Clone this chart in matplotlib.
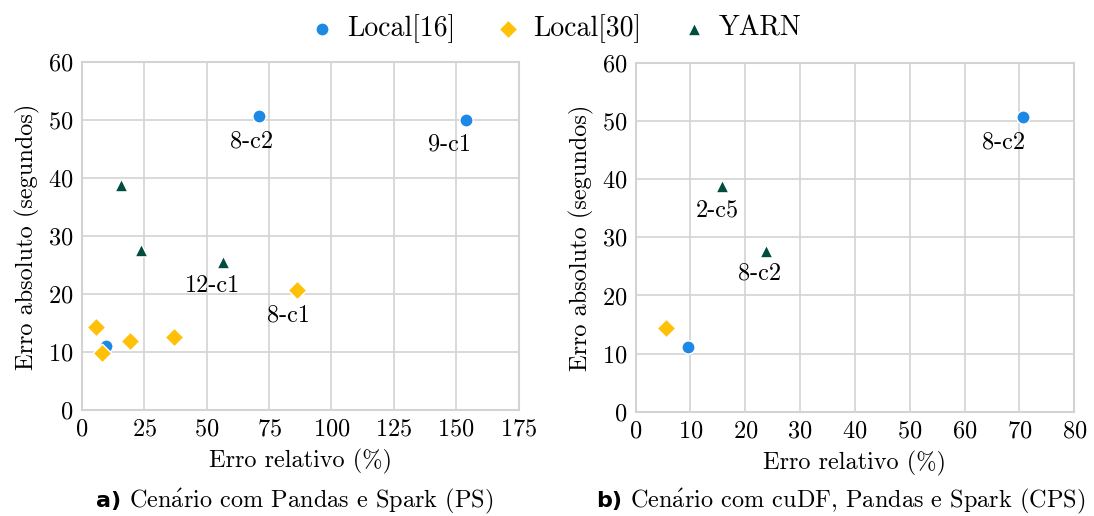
import matplotlib
matplotlib.use("Agg")
import matplotlib.pyplot as plt

plt.rcParams['font.family'] = ['cmr10', 'DejaVu Serif']
plt.rcParams['mathtext.fontset'] = 'cm'
plt.rcParams['axes.formatter.use_mathtext'] = True

series_names = ["Local[16]", "Local[30]", "YARN"]
colors = ["#1E88E5", "#FFC107", "#004D40"]
markers = ["o", "D", "^"]

# Panel a) Pandas e Spark (PS)
ps_local16_x = [70.8, 153.8, 9.5]
ps_local16_y = [50.7, 50.1, 11.1]
ps_local30_x = [5.6, 7.9, 19.1, 36.9, 86.2]
ps_local30_y = [14.4, 9.8, 12.0, 12.7, 20.7]
ps_yarn_x = [15.7, 23.8, 56.6]
ps_yarn_y = [38.9, 27.6, 25.6]
ps_labels = ["8-c2", "9-c1", "12-c1", "8-c1"]

# Panel b) cuDF, Pandas e Spark (CPS)
cps_local16_x = [70.7, 9.5]
cps_local16_y = [50.7, 11.1]
cps_local30_x = [5.6]
cps_local30_y = [14.4]
cps_yarn_x = [15.7, 23.8]
cps_yarn_y = [38.9, 27.6]
cps_labels = ["8-c2", "2-c5", "8-c2"]

ps_xticks = [0, 25, 50, 75, 100, 125, 150, 175]
cps_xticks = [0, 10, 20, 30, 40, 50, 60, 70, 80]
yticks = [0, 10, 20, 30, 40, 50, 60]

captions = [("a)", "Cen$\\mathrm{\\acute{a}}$rio com Pandas e Spark (PS)"),
            ("b)", "Cen$\\mathrm{\\acute{a}}$rio com cuDF, Pandas e Spark (CPS)")]

fig = plt.figure(figsize=(10.94, 5.16), dpi=100)
ax1 = fig.add_axes([0.075, 0.205, 0.399, 0.674])
ax2 = fig.add_axes([0.581, 0.202, 0.401, 0.676])

sizes = [90, 90, 85]
FS = 17.5

def style(ax, xticks, xmax):
    ax.set_xlim(0, xmax)
    ax.set_ylim(0, 60)
    ax.set_xticks(xticks)
    ax.set_yticks(yticks)
    ax.grid(True, color="#d3d3d3", linewidth=1.2)
    ax.set_axisbelow(True)
    for s in ax.spines.values():
        s.set_color("#d3d3d3")
        s.set_linewidth(1.5)
    ax.tick_params(length=0, labelsize=FS, pad=6)
    ax.set_xlabel("Erro relativo (%)", fontsize=FS, labelpad=6)
    ax.set_ylabel("Erro absoluto (segundos)", fontsize=FS, labelpad=6)

handles = []
for ax, data in [
    (ax1, [(ps_local16_x, ps_local16_y), (ps_local30_x, ps_local30_y), (ps_yarn_x, ps_yarn_y)]),
    (ax2, [(cps_local16_x, cps_local16_y), (cps_local30_x, cps_local30_y), (cps_yarn_x, cps_yarn_y)]),
]:
    hs = []
    for i, (xs, ys) in enumerate(data):
        h = ax.scatter(xs, ys, s=sizes[i], marker=markers[i], color=colors[i],
                       edgecolor="white", linewidth=1.0, zorder=3, label=series_names[i])
        hs.append(h)
    handles = hs

style(ax1, ps_xticks, 175)
style(ax2, cps_xticks, 80)

# annotations: (x, y, label, offset in points)
ps_points = [(ps_local16_x[0], ps_local16_y[0]), (ps_local16_x[1], ps_local16_y[1]),
             (ps_yarn_x[2], ps_yarn_y[2]), (ps_local30_x[4], ps_local30_y[4])]
ps_offsets = [(-5, -18), (-12, -18), (-8, -17), (-6, -18)]
for (x, y), lab, off in zip(ps_points, ps_labels, ps_offsets):
    ax1.annotate(lab, (x, y), xytext=off, textcoords="offset points",
                 ha="center", va="center", fontsize=FS)

cps_points = [(cps_local16_x[0], cps_local16_y[0]), (cps_yarn_x[0], cps_yarn_y[0]),
              (cps_yarn_x[1], cps_yarn_y[1])]
cps_offsets = [(-14, -18), (-3, -18), (-5, -16)]
for (x, y), lab, off in zip(cps_points, cps_labels, cps_offsets):
    ax2.annotate(lab, (x, y), xytext=off, textcoords="offset points",
                 ha="center", va="center", fontsize=FS)

leg = fig.legend(handles=handles, labels=series_names, loc="center", bbox_to_anchor=(0.507, 0.945),
                 ncol=3, frameon=False, fontsize=20, handlelength=1.0, handletextpad=0.4,
                 columnspacing=1.4, markerscale=1.0)

# captions: bold sans tag + serif body
renderer = fig.canvas.get_renderer()
cap_lefts = [0.088, 0.545]
cap_y = 0.017
for x0, (tag, body) in zip(cap_lefts, captions):
    t1 = fig.text(x0, cap_y, tag, fontsize=16, fontweight="bold", family="DejaVu Sans",
                  ha="left", va="baseline")
    w1 = t1.get_window_extent(renderer).width / fig.bbox.width
    fig.text(x0 + w1, cap_y, " " + body, fontsize=FS, ha="left", va="baseline")

fig.savefig("out.png", dpi=100)
